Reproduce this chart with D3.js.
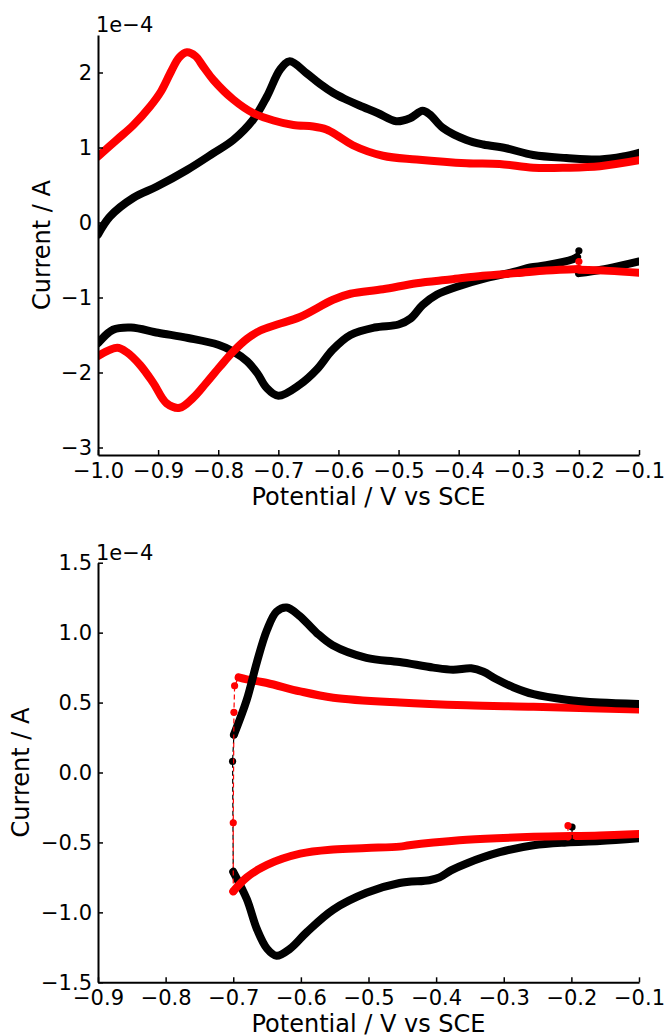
<!DOCTYPE html>
<html>
<head>
<meta charset="utf-8">
<script src="https://cdn.jsdelivr.net/npm/d3@7"></script>
<style>
  body { margin: 0; background: #fff; }
  svg { display: block; }
  text { font-family: "DejaVu Sans", sans-serif; fill: #000; }
</style>
</head>
<body>
<svg id="fig" width="667" height="1035"></svg>
<script>
// Cyclic voltammograms. Potential in V vs SCE, current in units of 1e-4 A.
// Each branch is a list of [potential, current] pairs.

// ---- Upper panel (-1.0 … -0.1 V) ----
const topXTicks = [-1.0, -0.9, -0.8, -0.7, -0.6, -0.5, -0.4, -0.3, -0.2, -0.1];
const topYTicks = [-3, -2, -1, 0, 1, 2];

const topBlackCathodic = [
  [-0.203, -0.46], [-0.21, -0.49], [-0.254, -0.57], [-0.281, -0.60], [-0.303, -0.65],
  [-0.353, -0.74], [-0.40, -0.85], [-0.436, -0.96], [-0.46, -1.10], [-0.48, -1.28],
  [-0.50, -1.36], [-0.54, -1.40], [-0.58, -1.50], [-0.61, -1.70], [-0.636, -1.96],
  [-0.664, -2.16], [-0.70, -2.31], [-0.72, -2.20], [-0.735, -2.01], [-0.752, -1.85],
  [-0.775, -1.72], [-0.80, -1.63], [-0.85, -1.54], [-0.90, -1.47], [-0.945, -1.40],
  [-0.975, -1.43], [-1.0, -1.61]
];
const topBlackAnodic = [
  [-1.0, -0.16], [-0.98, 0.08], [-0.941, 0.33], [-0.902, 0.48], [-0.852, 0.70],
  [-0.808, 0.925], [-0.775, 1.10], [-0.742, 1.37], [-0.719, 1.68], [-0.697, 2.04],
  [-0.681, 2.15], [-0.653, 1.99], [-0.631, 1.85], [-0.609, 1.73], [-0.590, 1.65],
  [-0.565, 1.56], [-0.535, 1.46], [-0.504, 1.35], [-0.481, 1.39], [-0.46, 1.49],
  [-0.448, 1.44], [-0.426, 1.26], [-0.387, 1.10], [-0.359, 1.04], [-0.321, 0.99],
  [-0.276, 0.90], [-0.221, 0.86], [-0.165, 0.84], [-0.126, 0.88], [-0.10, 0.93]
];
const topBlackReturn = [[-0.2, -0.675], [-0.163, -0.63], [-0.125, -0.565], [-0.10, -0.52]];
const topBlackStart = [[-0.2, -0.377], [-0.203, -0.46]];

const topRedCathodic = [
  [-0.2, -0.62], [-0.254, -0.64], [-0.303, -0.675], [-0.36, -0.71], [-0.414, -0.76],
  [-0.47, -0.81], [-0.526, -0.89], [-0.58, -0.95], [-0.609, -1.03], [-0.664, -1.26],
  [-0.702, -1.36], [-0.73, -1.44], [-0.752, -1.55], [-0.775, -1.72], [-0.797, -1.92],
  [-0.82, -2.14], [-0.842, -2.34], [-0.864, -2.47], [-0.886, -2.41], [-0.908, -2.14],
  [-0.93, -1.90], [-0.952, -1.73], [-0.968, -1.67], [-1.0, -1.78]
];
const topRedAnodic = [
  [-1.0, 0.88], [-0.969, 1.10], [-0.941, 1.30], [-0.913, 1.55], [-0.895, 1.75],
  [-0.878, 2.02], [-0.865, 2.20], [-0.852, 2.27], [-0.838, 2.22], [-0.825, 2.08],
  [-0.808, 1.90], [-0.775, 1.64], [-0.742, 1.46], [-0.708, 1.36], [-0.675, 1.30],
  [-0.642, 1.28], [-0.620, 1.24], [-0.600, 1.15], [-0.576, 1.03], [-0.526, 0.89],
  [-0.470, 0.84], [-0.387, 0.79], [-0.332, 0.78], [-0.276, 0.73], [-0.221, 0.73],
  [-0.165, 0.75], [-0.10, 0.83]
];
const topRedReturn = [[-0.2, -0.63], [-0.15, -0.645], [-0.10, -0.67]];
const topRedStart = [[-0.2, -0.52], [-0.2, -0.62]];

// ---- Lower panel (-0.9 … -0.1 V) ----
const botXTicks = [-0.9, -0.8, -0.7, -0.6, -0.5, -0.4, -0.3, -0.2, -0.1];
const botYTicks = [-1.5, -1.0, -0.5, 0.0, 0.5, 1.0, 1.5];

const botBlackCathodic = [
  [-0.7, -0.71], [-0.68, -0.905], [-0.665, -1.12], [-0.65, -1.26], [-0.636, -1.31],
  [-0.616, -1.26], [-0.591, -1.14], [-0.552, -0.98], [-0.503, -0.86], [-0.454, -0.79],
  [-0.410, -0.77], [-0.395, -0.75], [-0.378, -0.70], [-0.355, -0.65], [-0.306, -0.57],
  [-0.256, -0.52], [-0.207, -0.50], [-0.158, -0.49], [-0.10, -0.47]
];
const botBlackAnodic = [
  [-0.699, 0.27], [-0.68, 0.52], [-0.665, 0.79], [-0.65, 1.02], [-0.636, 1.15],
  [-0.621, 1.18], [-0.602, 1.12], [-0.577, 1.00], [-0.553, 0.91], [-0.503, 0.82],
  [-0.454, 0.79], [-0.404, 0.75], [-0.375, 0.735], [-0.348, 0.745], [-0.330, 0.72],
  [-0.312, 0.67], [-0.286, 0.61], [-0.256, 0.56], [-0.207, 0.52], [-0.158, 0.50],
  [-0.10, 0.49]
];
const botBlackSwitch = [[-0.7, -0.71], [-0.701, 0.08], [-0.699, 0.27]];
const botBlackStart = [[-0.199, -0.39], [-0.199, -0.50]];

const botRedCathodic = [
  [-0.7, -0.85], [-0.68, -0.75], [-0.65, -0.66], [-0.601, -0.58], [-0.552, -0.55],
  [-0.503, -0.54], [-0.454, -0.53], [-0.44, -0.52], [-0.404, -0.50], [-0.355, -0.48],
  [-0.256, -0.46], [-0.158, -0.45], [-0.10, -0.44]
];
const botRedAnodic = [
  [-0.692, 0.68], [-0.68, 0.666], [-0.65, 0.64], [-0.601, 0.58], [-0.552, 0.535],
  [-0.454, 0.50], [-0.355, 0.48], [-0.256, 0.47], [-0.10, 0.45]
];
const botRedSwitch = [[-0.7, -0.85], [-0.7, -0.36], [-0.699, 0.43], [-0.698, 0.62], [-0.692, 0.68]];
const botRedStart = [[-0.205, -0.38], [-0.205, -0.46]];

const BLACK = "#000000";
const RED = "#ff0000";

const svg = d3.select("#fig");

function drawPanel(cfg) {
  const x = d3.scaleLinear().domain(cfg.xDomain).range([cfg.left, cfg.right]);
  const y = d3.scaleLinear().domain(cfg.yDomain).range([cfg.bottom, cfg.top]);

  const g = svg.append("g");
  const clipId = "clip-" + cfg.id;
  svg.append("clipPath").attr("id", clipId)
    .append("rect")
    .attr("x", cfg.left).attr("y", cfg.top)
    .attr("width", cfg.right - cfg.left).attr("height", cfg.bottom - cfg.top);

  const plot = g.append("g").attr("clip-path", `url(#${clipId})`);

  const smooth = d3.line().x(d => x(d[0])).y(d => y(d[1]))
    .curve(d3.curveCatmullRom.alpha(0.5));
  const straight = d3.line().x(d => x(d[0])).y(d => y(d[1]));

  cfg.traces.forEach(t => {
    if (t.kind === "dense") {
      // densely sampled scan: drawn as a thick trace
      plot.append("path").datum(t.data)
        .attr("d", smooth)
        .attr("fill", "none").attr("stroke", t.color)
        .attr("stroke-width", 8)
        .attr("stroke-linecap", "round").attr("stroke-linejoin", "round");
    } else {
      // sparse points: dashed connector with dot markers
      plot.append("path").datum(t.data)
        .attr("d", straight)
        .attr("fill", "none").attr("stroke", t.color)
        .attr("stroke-width", 1.2)
        .attr("stroke-dasharray", "5,3");
      plot.selectAll(null).data(t.data).enter().append("circle")
        .attr("cx", d => x(d[0])).attr("cy", d => y(d[1]))
        .attr("r", 3.6).attr("fill", t.color);
    }
  });

  // axes: left and bottom spines, inward ticks
  const xAxis = d3.axisBottom(x).tickValues(cfg.xTicks)
    .tickFormat(d3.format(".1f")).tickSize(-5).tickSizeOuter(0).tickPadding(8);
  const yAxis = d3.axisLeft(y).tickValues(cfg.yTicks)
    .tickFormat(d3.format(cfg.yFmt)).tickSize(-5).tickSizeOuter(0).tickPadding(6);

  const gx = g.append("g").attr("transform", `translate(0,${cfg.bottom})`).call(xAxis);
  const gy = g.append("g").attr("transform", `translate(${cfg.left},0)`).call(yAxis);
  [gx, gy].forEach(a => {
    a.select(".domain").attr("stroke", "#000").attr("stroke-width", 2);
    a.selectAll(".tick line").attr("stroke", "#000").attr("stroke-width", 1.5);
    a.selectAll(".tick text").attr("font-size", 21).attr("font-family", "DejaVu Sans").attr("fill", "#000");
  });

  // scale factor label
  g.append("text").attr("x", cfg.left - 2).attr("y", cfg.top - 3)
    .attr("font-size", 21).text("1e\u22124");

  // axis titles
  g.append("text")
    .attr("x", (cfg.left + cfg.right) / 2).attr("y", cfg.bottom + 50)
    .attr("text-anchor", "middle").attr("font-size", 24)
    .text("Potential / V vs SCE");
  g.append("text")
    .attr("transform", `translate(${cfg.yLabelX},${(cfg.top + cfg.bottom) / 2}) rotate(-90)`)
    .attr("text-anchor", "middle").attr("font-size", 24)
    .text("Current / A");
}

drawPanel({
  id: "top", left: 98, right: 639, top: 35, bottom: 455,
  xDomain: [-1.0, -0.1], yDomain: [-3.1, 2.5],
  xTicks: topXTicks, yTicks: topYTicks, yFmt: "d", yLabelX: 50,
  traces: [
    { kind: "dense", color: BLACK, data: topBlackCathodic },
    { kind: "dense", color: BLACK, data: topBlackAnodic },
    { kind: "dense", color: BLACK, data: topBlackReturn },
    { kind: "dense", color: RED, data: topRedCathodic },
    { kind: "dense", color: RED, data: topRedAnodic },
    { kind: "dense", color: RED, data: topRedReturn },
    { kind: "sparse", color: BLACK, data: topBlackStart },
    { kind: "sparse", color: RED, data: topRedStart }
  ]
});

drawPanel({
  id: "bottom", left: 98, right: 639, top: 562.7, bottom: 982.3,
  xDomain: [-0.9, -0.1], yDomain: [-1.5, 1.5],
  xTicks: botXTicks, yTicks: botYTicks, yFmt: ".1f", yLabelX: 29,
  traces: [
    { kind: "dense", color: RED, data: botRedAnodic },
    { kind: "dense", color: BLACK, data: botBlackCathodic },
    { kind: "dense", color: RED, data: botRedCathodic },
    { kind: "dense", color: BLACK, data: botBlackAnodic },
    { kind: "sparse", color: BLACK, data: botBlackSwitch },
    { kind: "sparse", color: RED, data: botRedSwitch },
    { kind: "sparse", color: BLACK, data: botBlackStart },
    { kind: "sparse", color: RED, data: botRedStart }
  ]
});
</script>
</body>
</html>
